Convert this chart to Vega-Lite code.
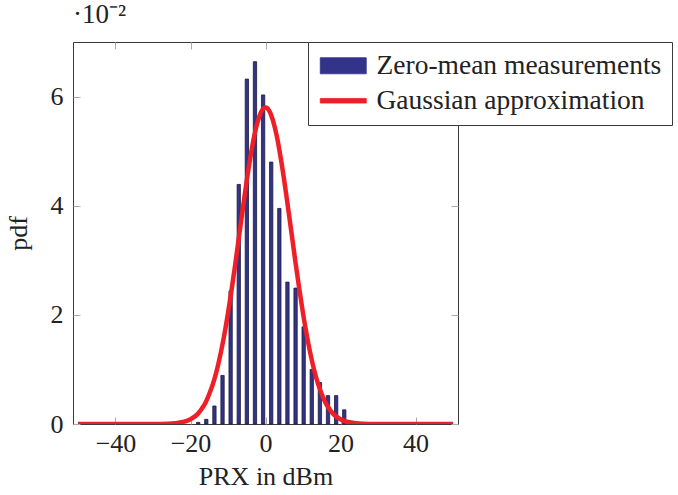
{
  "$schema": "https://vega.github.io/schema/vega-lite/v6.json",
  "width": 385,
  "height": 382,
  "autosize": {"type": "none"},
  "padding": {"left": 73, "top": 42, "right": 220, "bottom": 71},
  "background": "white",
  "title": {"text": "·10⁻²", "anchor": "start", "frame": "group", "font": "Liberation Serif", "fontSize": 27, "fontWeight": "normal", "color": "#222", "offset": 13},
  "config": {
    "view": {"stroke": "#3a3a3a", "strokeWidth": 1},
    "axis": {
      "domain": false, "grid": false,
      "tickColor": "#aaaaaa", "tickSize": -7, "tickWidth": 1,
      "labelFont": "Liberation Serif", "labelFontSize": 26, "labelColor": "#222",
      "titleFont": "Liberation Serif", "titleFontSize": 26, "titleFontWeight": "normal", "titleColor": "#222"
    },
    "legend": {
      "orient": "none", "legendX": 235, "legendY": 0,
      "fillColor": "white", "strokeColor": "#3a3a3a", "padding": 10,
      "labelFont": "Liberation Serif", "labelFontSize": 27.5, "labelColor": "#222", "labelLimit": 500,
      "symbolSize": 529, "symbolType": "M-1,-0.7H3V0.7H-1Z", "labelOffset": 31, "rowPadding": 6
    }
  },
  "datasets": {
    "hist": [
      {"prx": -17.95, "pdf": 0.0003, "series": "Zero-mean measurements"},
      {"prx": -15.79, "pdf": 0.00085, "series": "Zero-mean measurements"},
      {"prx": -13.62, "pdf": 0.0033, "series": "Zero-mean measurements"},
      {"prx": -11.46, "pdf": 0.0089, "series": "Zero-mean measurements"},
      {"prx": -9.30, "pdf": 0.0244, "series": "Zero-mean measurements"},
      {"prx": -7.13, "pdf": 0.0439, "series": "Zero-mean measurements"},
      {"prx": -4.97, "pdf": 0.0632, "series": "Zero-mean measurements"},
      {"prx": -2.81, "pdf": 0.0664, "series": "Zero-mean measurements"},
      {"prx": -0.64, "pdf": 0.0603, "series": "Zero-mean measurements"},
      {"prx": 1.52, "pdf": 0.0480, "series": "Zero-mean measurements"},
      {"prx": 3.69, "pdf": 0.0395, "series": "Zero-mean measurements"},
      {"prx": 5.85, "pdf": 0.0260, "series": "Zero-mean measurements"},
      {"prx": 8.02, "pdf": 0.0249, "series": "Zero-mean measurements"},
      {"prx": 10.18, "pdf": 0.0178, "series": "Zero-mean measurements"},
      {"prx": 12.34, "pdf": 0.0100, "series": "Zero-mean measurements"},
      {"prx": 14.51, "pdf": 0.0076, "series": "Zero-mean measurements"},
      {"prx": 16.67, "pdf": 0.0052, "series": "Zero-mean measurements"},
      {"prx": 18.84, "pdf": 0.0052, "series": "Zero-mean measurements"},
      {"prx": 21.00, "pdf": 0.0026, "series": "Zero-mean measurements"}
    ],
    "fit": [
      {"prx": -50, "pdf": 0.0, "series": "Gaussian approximation"},
      {"prx": -40, "pdf": 0.0, "series": "Gaussian approximation"},
      {"prx": -30, "pdf": 0.00001, "series": "Gaussian approximation"},
      {"prx": -26, "pdf": 0.00005, "series": "Gaussian approximation"},
      {"prx": -24, "pdf": 0.00014, "series": "Gaussian approximation"},
      {"prx": -22, "pdf": 0.00036, "series": "Gaussian approximation"},
      {"prx": -21, "pdf": 0.00057, "series": "Gaussian approximation"},
      {"prx": -20, "pdf": 0.00087, "series": "Gaussian approximation"},
      {"prx": -19, "pdf": 0.0013, "series": "Gaussian approximation"},
      {"prx": -18, "pdf": 0.0019, "series": "Gaussian approximation"},
      {"prx": -17, "pdf": 0.0028, "series": "Gaussian approximation"},
      {"prx": -16, "pdf": 0.0039, "series": "Gaussian approximation"},
      {"prx": -15, "pdf": 0.0055, "series": "Gaussian approximation"},
      {"prx": -14, "pdf": 0.0074, "series": "Gaussian approximation"},
      {"prx": -13, "pdf": 0.0098, "series": "Gaussian approximation"},
      {"prx": -12, "pdf": 0.0128, "series": "Gaussian approximation"},
      {"prx": -11, "pdf": 0.0163, "series": "Gaussian approximation"},
      {"prx": -10, "pdf": 0.0203, "series": "Gaussian approximation"},
      {"prx": -9, "pdf": 0.0248, "series": "Gaussian approximation"},
      {"prx": -8, "pdf": 0.0296, "series": "Gaussian approximation"},
      {"prx": -7, "pdf": 0.0347, "series": "Gaussian approximation"},
      {"prx": -6, "pdf": 0.0397, "series": "Gaussian approximation"},
      {"prx": -5, "pdf": 0.0446, "series": "Gaussian approximation"},
      {"prx": -4, "pdf": 0.0490, "series": "Gaussian approximation"},
      {"prx": -3, "pdf": 0.0528, "series": "Gaussian approximation"},
      {"prx": -2, "pdf": 0.0556, "series": "Gaussian approximation"},
      {"prx": -1, "pdf": 0.0574, "series": "Gaussian approximation"},
      {"prx": 0, "pdf": 0.0580, "series": "Gaussian approximation"},
      {"prx": 1, "pdf": 0.0574, "series": "Gaussian approximation"},
      {"prx": 2, "pdf": 0.0556, "series": "Gaussian approximation"},
      {"prx": 3, "pdf": 0.0528, "series": "Gaussian approximation"},
      {"prx": 4, "pdf": 0.0490, "series": "Gaussian approximation"},
      {"prx": 5, "pdf": 0.0446, "series": "Gaussian approximation"},
      {"prx": 6, "pdf": 0.0397, "series": "Gaussian approximation"},
      {"prx": 7, "pdf": 0.0347, "series": "Gaussian approximation"},
      {"prx": 8, "pdf": 0.0296, "series": "Gaussian approximation"},
      {"prx": 9, "pdf": 0.0248, "series": "Gaussian approximation"},
      {"prx": 10, "pdf": 0.0203, "series": "Gaussian approximation"},
      {"prx": 11, "pdf": 0.0163, "series": "Gaussian approximation"},
      {"prx": 12, "pdf": 0.0128, "series": "Gaussian approximation"},
      {"prx": 13, "pdf": 0.0098, "series": "Gaussian approximation"},
      {"prx": 14, "pdf": 0.0074, "series": "Gaussian approximation"},
      {"prx": 15, "pdf": 0.0055, "series": "Gaussian approximation"},
      {"prx": 16, "pdf": 0.0039, "series": "Gaussian approximation"},
      {"prx": 17, "pdf": 0.0028, "series": "Gaussian approximation"},
      {"prx": 18, "pdf": 0.0019, "series": "Gaussian approximation"},
      {"prx": 19, "pdf": 0.0013, "series": "Gaussian approximation"},
      {"prx": 20, "pdf": 0.00087, "series": "Gaussian approximation"},
      {"prx": 21, "pdf": 0.00057, "series": "Gaussian approximation"},
      {"prx": 22, "pdf": 0.00036, "series": "Gaussian approximation"},
      {"prx": 24, "pdf": 0.00014, "series": "Gaussian approximation"},
      {"prx": 26, "pdf": 0.00005, "series": "Gaussian approximation"},
      {"prx": 30, "pdf": 0.00001, "series": "Gaussian approximation"},
      {"prx": 40, "pdf": 0.0, "series": "Gaussian approximation"},
      {"prx": 50, "pdf": 0.0, "series": "Gaussian approximation"}
    ]
  },
  "layer": [
    {
      "data": {"name": "hist"},
      "mark": {"type": "bar", "width": 3.3, "stroke": "#1c1c3c", "strokeWidth": 0.8, "opacity": 1},
      "encoding": {
        "x": {"field": "prx", "type": "quantitative", "scale": {"domain": [-50, 50], "nice": false, "zero": false},
              "axis": {"orient": "bottom", "values": [-40, -20, 0, 20, 40], "labelPadding": 13, "title": "PRX in dBm", "titlePadding": 7}},
        "y": {"field": "pdf", "type": "quantitative", "scale": {"domain": [0, 0.07], "nice": false},
              "axis": {"orient": "left", "values": [0, 0.02, 0.04, 0.06], "labelExpr": "format(round(datum.value*100), 'd')", "labelPadding": 17, "title": "pdf", "titlePadding": 19}},
        "color": {"field": "series", "type": "nominal",
                  "scale": {"domain": ["Zero-mean measurements", "Gaussian approximation"], "range": ["#33338a", "#ee1f26"]},
                  "legend": {
                    "title": null,
                    "encode": {"symbols": {"update": {
                      "shape": {"signal": "datum.value === 'Gaussian approximation' ? 'M-1,-0.2H3V0.2H-1Z' : 'M-1,-0.7H3V0.7H-1Z'"},
                      "fill": {"signal": "datum.value === 'Gaussian approximation' ? '#ee1f26' : '#33338a'"},
                      "stroke": {"signal": "datum.value === 'Gaussian approximation' ? '#ee1f26' : '#1c1c3c'"},
                      "strokeWidth": {"value": 0.8},
                      "opacity": {"value": 1}
                    }}}
                  }}
      }
    },
    {
      "data": {"name": "fit"},
      "mark": {"type": "line", "interpolate": "monotone", "strokeWidth": 4.5, "clip": true},
      "encoding": {
        "x": {"field": "prx", "type": "quantitative",
              "axis": {"orient": "top", "values": [-40, -20, 0, 20, 40], "labels": false, "title": null}},
        "y": {"field": "pdf", "type": "quantitative",
              "axis": {"orient": "right", "values": [0, 0.02, 0.04, 0.06], "labels": false, "title": null}},
        "color": {"field": "series", "type": "nominal",
                  "legend": {
                    "title": null,
                    "encode": {"symbols": {"update": {
                      "shape": {"signal": "datum.value === 'Gaussian approximation' ? 'M-1,-0.2H3V0.2H-1Z' : 'M-1,-0.7H3V0.7H-1Z'"},
                      "fill": {"signal": "datum.value === 'Gaussian approximation' ? '#ee1f26' : '#33338a'"},
                      "stroke": {"signal": "datum.value === 'Gaussian approximation' ? '#ee1f26' : '#1c1c3c'"},
                      "strokeWidth": {"value": 0.8},
                      "opacity": {"value": 1}
                    }}}
                  }}
      }
    }
  ],
  "resolve": {"axis": {"x": "independent", "y": "independent"}}
}
